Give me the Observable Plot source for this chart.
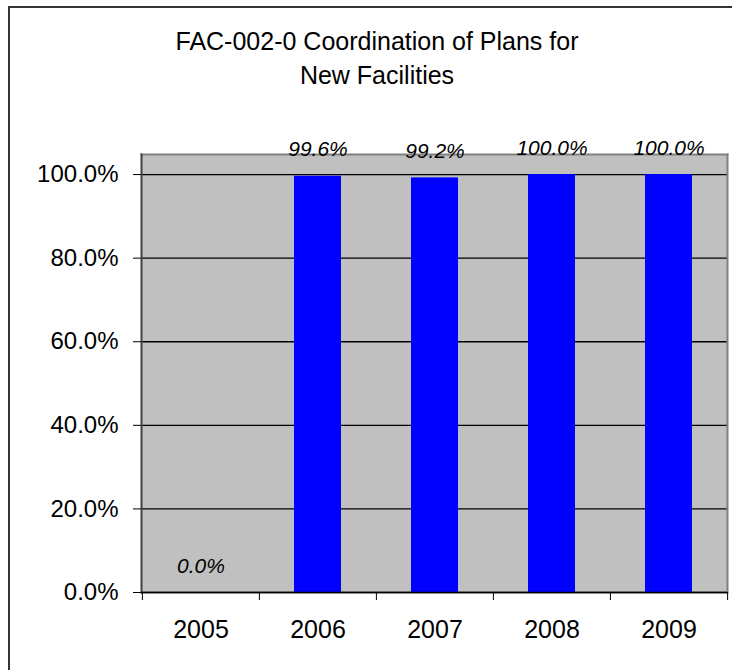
<!DOCTYPE html>
<html>
<head>
<meta charset="utf-8">
<script src="https://cdn.jsdelivr.net/npm/d3@7"></script>
<script src="https://cdn.jsdelivr.net/npm/@observablehq/plot@0.6"></script>
<style>
  html, body { margin: 0; padding: 0; background: #fff; overflow: hidden; }
  #wrap { position: relative; width: 732px; height: 670px; overflow: hidden; }
  #outer { position: absolute; left: 8px; top: 6px; width: 760px; height: 700px;
           border-top: 2px solid #333; border-left: 2px solid #333; box-sizing: border-box; }
  #title { position: absolute; left: 0; top: 24px; width: 754px; text-align: center;
           font-family: "Liberation Sans", Arial, sans-serif; font-size: 25px; line-height: 34px; color: #000; }
  #chart { position: absolute; left: 0; top: 0; }
</style>
</head>
<body>
<div id="wrap">
  <div id="outer"></div>
  <div id="chart"></div>
  <div id="title"></div>
</div>
<script>
const titleLines = ["FAC-002-0 Coordination of Plans for", "New Facilities"];
const years = ["2005", "2006", "2007", "2008", "2009"];
const rates = [0.0, 0.996, 0.992, 1.0, 1.0];
const yTicks = [0, 0.2, 0.4, 0.6, 0.8, 1.0];
const yMax = 1.048;

document.getElementById("title").innerHTML = titleLines.join("<br>");

const data = years.map((year, i) => ({year, rate: rates[i]}));
const pct = d => (d * 100).toFixed(1) + "%";
const W = 732, mL = 141, mR = 5;
const halfStep = (W - mL - mR) / years.length / 2;

const chart = Plot.plot({
  width: W,
  height: 670,
  marginLeft: mL,
  marginRight: mR,
  marginTop: 154,
  marginBottom: 78,
  style: {fontFamily: "Liberation Sans, Arial, sans-serif", fontSize: "24px", color: "black", background: "transparent", overflow: "visible"},
  x: {domain: years, paddingInner: 0.6, paddingOuter: 0.3, label: null},
  y: {domain: [0, yMax], label: null},
  marks: [
    Plot.frame({fill: "#c0c0c0", stroke: "none"}),
    Plot.gridY(yTicks, {stroke: "black", strokeOpacity: 1, strokeWidth: 1.3}),
    Plot.barY(data, {x: "year", y: "rate", fill: "#0000ff"}),
    Plot.frame({anchor: "top", stroke: "#808080", strokeWidth: 2}),
    Plot.frame({anchor: "right", stroke: "#808080", strokeWidth: 2}),
    Plot.frame({anchor: "left", stroke: "#404040", strokeWidth: 2}),
    Plot.ruleY([0], {stroke: "black", strokeWidth: 1.5}),
    Plot.text(data, {x: "year", y: "rate", text: d => pct(d.rate), dy: -20, lineAnchor: "bottom",
      fontStyle: "italic", fontSize: 21, fill: "black"}),
    Plot.axisY({ticks: yTicks, tickFormat: pct, tickSize: 8, tickPadding: 15, stroke: "black", fontSize: 24, label: null}),
    Plot.axisX({tickSize: 0, tickPadding: 28, fontSize: 25, label: null}),
    Plot.axisX({tickSize: 8, fill: "none", stroke: "black", dx: -halfStep, label: null}),
    Plot.axisX({ticks: [years[years.length - 1]], tickSize: 8, fill: "none", stroke: "black", dx: halfStep, label: null})
  ]
});
document.getElementById("chart").appendChild(chart);
</script>
</body>
</html>
